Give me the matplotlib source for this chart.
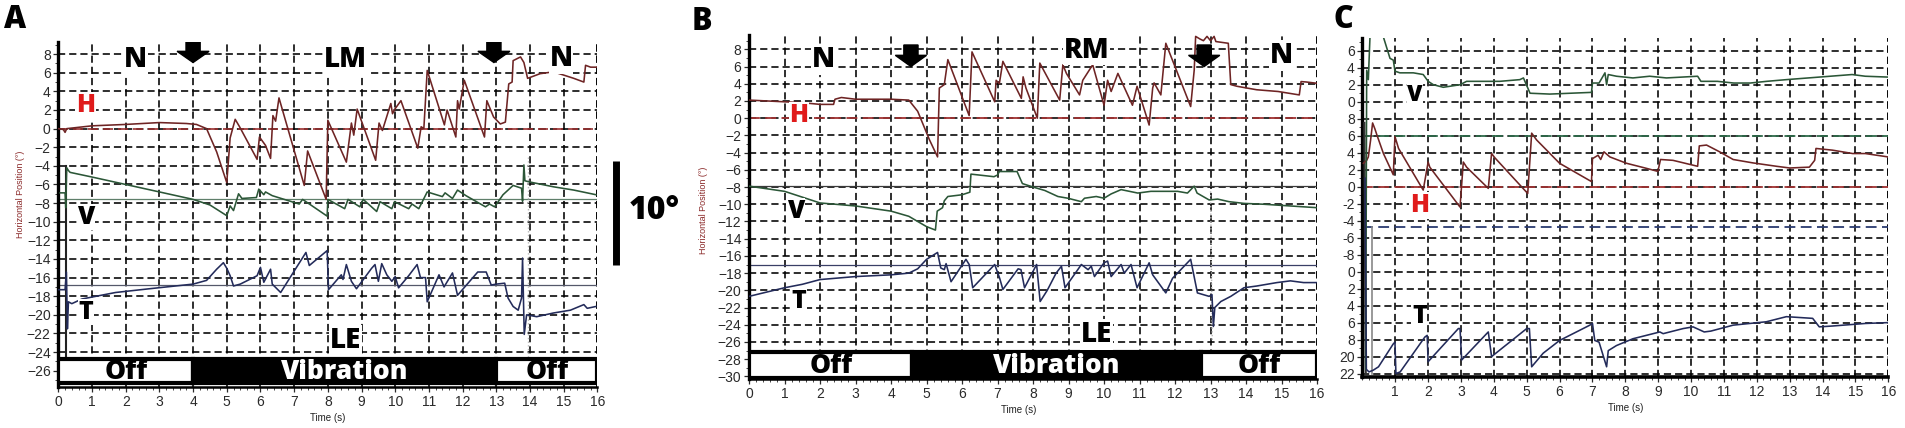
import matplotlib
matplotlib.use("Agg")
import matplotlib.pyplot as plt
import matplotlib.ticker as mticker
from matplotlib.patches import Rectangle, FancyArrow

plt.rcParams['font.family'] = ['Liberation Sans', 'DejaVu Sans']

# ---- Panel A (LM stimulation, left eye) : (time s, position deg)
A_H = [(0, 0), (0.15, -0.1), (0.2, -0.4), (0.25, 0), (1.0, 0.3), (2.0, 0.45), (3.0, 0.65),
       (3.8, 0.55), (4.1, 0.45), (4.4, 0), (4.7, -2.5), (4.9, -4.7), (5.0, -5.8), (5.1, -1.0),
       (5.25, 1.0), (5.38, 0.2), (5.9, -3.3), (5.97, -0.9), (6.15, -1.8), (6.3, -3.2),
       (6.37, 1.4), (6.45, 0.8), (6.55, 3.3), (7.3, -6.1), (7.4, -2.4), (7.95, -7.6),
       (8.0, 0.9), (8.55, -3.6), (8.7, 0.6), (8.77, -0.7), (8.87, 2.1), (9.42, -3.4),
       (9.52, 0.6), (9.62, -0.2), (9.87, 2.7), (9.92, 1.6), (9.99, 2.1), (10.17, 3.0),
       (10.67, -2.1), (10.77, 0.2), (10.85, 0), (10.95, 6.25), (11.46, 0.4), (11.54, 2.0),
       (11.8, -0.9), (11.85, 3.0), (11.9, 2.1), (12.05, 5.2), (12.65, -0.9), (12.72, 3.0),
       (12.92, 1.25), (13.12, 0.5), (13.27, 0.7), (13.37, 4.8), (13.47, 5.0), (13.5, 7.3),
       (13.72, 7.7), (13.82, 7.1), (13.93, 5.4), (14.3, 5.9), (14.7, 6.1), (15.3, 5.4),
       (15.6, 5.0), (15.65, 6.8), (15.8, 6.6), (16.0, 6.6)]
A_V = [(0.05, -6.9), (0.2, -6.9), (0.22, -8.5), (0.25, -4.2), (0.3, -4.5), (0.35, -4.7),
       (1.0, -5.2), (2.0, -6.0), (3.0, -6.8), (4.0, -7.6), (4.5, -8.2), (5.0, -9.35),
       (5.1, -8.3), (5.2, -8.8), (5.35, -7.0), (5.45, -7.5), (5.88, -7.4), (5.95, -6.5),
       (6.1, -7.1), (6.15, -6.8), (6.35, -7.2), (7.15, -8.1), (7.25, -7.6), (7.98, -9.4),
       (8.0, -7.6), (8.5, -8.6), (8.6, -7.6), (8.95, -8.4), (9.05, -7.6), (9.45, -8.9),
       (9.55, -7.85), (9.9, -8.6), (9.98, -7.85), (10.4, -8.6), (10.5, -8.1), (10.7, -8.6),
       (10.95, -6.8), (11.4, -7.3), (11.48, -6.9), (11.7, -7.5), (11.85, -6.6), (12.1, -7.2),
       (12.68, -8.4), (12.8, -8.1), (12.95, -8.4), (13.2, -7.1), (13.5, -6.1), (13.75, -6.4),
       (13.78, -7.8), (13.82, -3.9), (13.85, -5.6), (13.95, -5.7), (14.7, -6.25),
       (15.3, -6.6), (15.96, -7.1)]
A_T = [(0, -17.3), (0.2, -17.3), (0.24, -15.4), (0.27, -21.5), (0.3, -18.6), (0.4, -18.8),
       (0.7, -18.3), (1.7, -17.6), (2.7, -17.2), (4.0, -16.7), (4.4, -16.3), (4.7, -15.1),
       (4.9, -14.4), (5.0, -15.0), (5.1, -15.8), (5.2, -16.9), (5.4, -16.7), (5.9, -15.8),
       (6.0, -14.9), (6.1, -16.5), (6.3, -15.1), (6.35, -16.7), (6.6, -17.6), (7.35, -13.3),
       (7.45, -14.7), (7.98, -13.1), (8.02, -17.3), (8.4, -15.7), (8.45, -16.2), (8.55, -14.6),
       (8.7, -16.4), (8.85, -17.2), (9.3, -15.0), (9.4, -14.6), (9.5, -16.4), (9.6, -14.5),
       (9.75, -15.7), (9.9, -16.4), (10.0, -15.9), (10.1, -17.1), (10.4, -15.8), (10.65, -14.6),
       (10.75, -16.0), (10.9, -16.0), (10.95, -18.6), (11.3, -15.7), (11.45, -17.0),
       (11.7, -15.5), (11.8, -17.1), (11.85, -17.9), (12.45, -15.4), (12.7, -15.4),
       (12.85, -16.8), (13.0, -16.7), (13.25, -16.6), (13.35, -18.2), (13.5, -19.1),
       (13.65, -19.5), (13.75, -18.2), (13.78, -13.9), (13.83, -22.1), (13.9, -20.0),
       (14.2, -20.2), (14.7, -19.8), (15.2, -19.5), (15.6, -18.9), (15.7, -19.3), (15.96, -19.1)]
A_ARTEFACT = [(0.22, -4.0), (0.22, -24.8)]
A_GHOST = [(13.95, -3.0), (13.95, -25.0)]

# ---- Panel B (RM stimulation, left eye)
B_H = [(0, 2.1), (1, 1.9), (1.5, 1.8), (2.0, 1.6), (2.38, 1.6), (2.42, 2.2), (2.6, 2.4),
       (3.0, 2.2), (4.0, 2.2), (4.5, 2.1), (4.75, 0.8), (5.08, -2.5), (5.31, -4.5), (5.36, 3.5),
       (5.5, 3.9), (5.6, 6.8), (6.2, 0.3), (6.28, 7.7), (6.92, 1.9), (6.96, 4.4), (7.05, 4.0),
       (7.15, 6.6), (7.67, 2.3), (7.72, 4.8), (7.8, 3.5), (8.12, 0.0), (8.19, 6.4), (8.75, 2.1),
       (8.84, 6.2), (8.94, 5.2), (9.31, 2.7), (9.4, 4.4), (9.68, 6.2), (10.0, 1.5), (10.1, 4.4),
       (10.2, 3.1), (10.39, 5.2), (10.8, 1.5), (10.93, 3.7), (11.27, -0.8), (11.37, 3.5),
       (11.41, 4.1), (11.6, 2.7), (11.74, 8.7), (12.44, 1.35), (12.54, 5.6), (12.58, 9.5),
       (12.7, 9.2), (12.8, 9.0), (12.9, 9.5), (13.0, 9.0), (13.1, 9.5), (13.15, 8.9),
       (13.5, 8.7), (13.57, 3.9), (13.75, 3.7), (14.3, 3.3), (14.9, 3.1), (15.5, 2.7),
       (15.55, 4.25), (15.7, 4.2), (16, 4.05)]
B_V = [(0, -7.9), (1, -8.5), (2, -9.85), (3, -10.2), (4, -10.8), (4.5, -11.4), (5.0, -12.6),
       (5.25, -13.0), (5.3, -10.8), (5.45, -10.4), (5.5, -9.6), (5.6, -9.1), (6.0, -8.9),
       (6.22, -8.6), (6.25, -6.5), (6.9, -6.8), (7.0, -6.6), (7.05, -6.2), (7.55, -6.2),
       (7.7, -7.6), (8.0, -8.0), (8.33, -8.4), (8.7, -9.1), (8.98, -9.3), (9.36, -9.7),
       (9.45, -9.3), (9.78, -9.1), (10.0, -9.3), (10.2, -8.8), (10.48, -8.3), (10.95, -8.7),
       (11.32, -8.5), (12.07, -8.5), (12.35, -8.7), (12.54, -7.9), (12.62, -8.7),
       (12.96, -9.5), (13.2, -9.4), (13.52, -9.7), (13.94, -9.9), (14.5, -10.0),
       (15.25, -10.2), (16, -10.4)]
B_T = [(0, -20.7), (1, -19.7), (1.5, -19.3), (2, -18.75), (3, -18.4), (4, -18.2), (4.5, -18.0),
       (4.75, -17.5), (5.0, -16.4), (5.31, -15.6), (5.4, -17.4), (5.5, -17.6), (5.55, -16.9),
       (5.69, -19.0), (6.11, -16.4), (6.2, -17.0), (6.3, -19.7), (6.92, -17.0), (7.06, -18.6),
       (7.15, -19.9), (7.58, -17.5), (7.66, -17.6), (7.76, -19.7), (8.1, -17.0), (8.2, -21.3),
       (8.4, -20.0), (8.65, -18.0), (8.8, -17.2), (8.9, -19.7), (9.26, -17.6), (9.36, -17.0),
       (9.55, -17.6), (9.64, -17.2), (9.73, -18.4), (10.0, -16.8), (10.1, -16.6), (10.2, -18.4),
       (10.48, -17.0), (10.57, -18.0), (10.76, -17.0), (10.93, -19.7), (11.27, -16.8),
       (11.37, -18.2), (11.74, -20.3), (11.93, -18.6), (12.44, -16.4), (12.63, -20.3),
       (12.96, -20.7), (13.04, -20.5), (13.08, -24.2), (13.12, -22.0), (13.29, -21.3),
       (13.57, -20.7), (13.94, -19.7), (14.3, -19.5), (14.87, -19.1), (15.25, -18.9),
       (15.62, -19.1), (16, -19.1)]
B_GHOST = [(13.0, -8.5), (13.05, -26.0)]

# ---- Panel C
C_H = [(0.03, 2.75), (0.13, 3.1), (0.18, 3.5), (0.25, 5.5), (0.31, 7.5), (0.38, 6.8),
       (0.44, 6.1), (0.64, 3.9), (0.94, 1.4), (0.99, 5.9), (1.1, 4.5), (1.85, -0.4), (2.0, 2.9),
       (2.05, 2.3), (2.97, -2.4), (3.07, 2.9), (3.17, 2.3), (3.83, -0.2), (3.93, 3.9),
       (4.03, 3.4), (5.03, -0.8), (5.15, 6.3), (5.3, 5.5), (6.0, 2.75), (6.97, 0.6), (7.0, 3.3),
       (7.17, 3.7), (7.25, 3.2), (7.35, 4.1), (7.53, 3.5), (8.04, 2.75), (8.6, 2.2), (8.99, 1.8),
       (9.07, 3.2), (9.45, 3.1), (10.2, 2.4), (10.25, 4.8), (10.47, 4.9), (10.87, 4.1),
       (11.28, 3.2), (11.88, 2.8), (12.6, 2.4), (13.0, 2.2), (13.6, 2.3), (13.76, 3.1),
       (13.8, 4.5), (14.3, 4.3), (14.92, 3.9), (15.3, 3.9), (16.0, 3.5)]
C_V = [(0.1, -21.5), (0.13, 13.7), (0.18, 12.6), (0.23, 17.6), (0.64, 17.6), (0.84, 15.1),
       (0.94, 14.9), (0.99, 13.6), (1.14, 13.4), (1.55, 13.4), (1.85, 13.2), (2.0, 12.4),
       (2.16, 12.0), (2.46, 11.7), (2.97, 12.0), (3.17, 12.4), (4.18, 12.4), (4.79, 12.6),
       (4.9, 12.8), (5.1, 11.0), (5.7, 10.9), (6.97, 11.1), (7.0, 12.2), (7.2, 12.2),
       (7.38, 13.4), (7.43, 12.0), (7.48, 13.2), (7.73, 13.0), (8.23, 12.8), (8.74, 13.0),
       (9.25, 12.8), (10.2, 13.0), (10.3, 12.4), (10.8, 12.4), (11.3, 12.2), (11.8, 12.2),
       (12.3, 12.4), (12.9, 12.6), (13.9, 12.9), (14.9, 13.2), (15.3, 13.0), (16.0, 12.9)]
C_T = [(0.08, 1.0), (0.12, -21.5), (0.2, -21.8), (0.33, -21.6), (0.49, -21.2), (0.94, -18.5),
       (0.99, -18.3), (1.02, -22.0), (1.15, -21.8), (1.9, -17.7), (1.97, -17.5), (2.0, -20.6),
       (2.92, -16.7), (2.97, -16.7), (3.02, -20.4), (3.78, -17.3), (3.83, -17.1), (3.93, -20.0),
       (5.0, -16.7), (5.08, -16.7), (5.15, -21.2), (5.5, -19.6), (6.0, -18.1), (6.92, -16.3),
       (7.0, -16.1), (7.07, -18.1), (7.2, -18.3), (7.43, -21.2), (7.48, -19.3), (7.73, -18.7),
       (8.23, -17.9), (9.05, -17.1), (9.15, -17.3), (9.76, -16.7), (10.06, -16.5), (10.4, -17.1),
       (10.6, -17.0), (11.28, -16.3), (12.29, -15.9), (12.9, -15.3), (13.7, -15.5),
       (13.9, -16.5), (14.3, -16.4), (15.3, -16.1), (16.0, -16.0)]
C_ARTEFACT1 = [(0.06, 7.5), (0.1, -21.8)]
C_ARTEFACT2 = [(0.28, -4.7), (0.28, -22.0)]

# ---- stimulus periods (start, end, label)
A_STIM = [(0, 4, 'Off'), (4, 13, 'Vibration'), (13, 16, 'Off')]
B_STIM = [(0, 4.6, 'Off'), (4.6, 12.72, 'Vibration'), (12.72, 16, 'Off')]
A_BAR = (-27.35, -24.7)
B_BAR = (-30.15, -27.2)
A_ARROWS = [4.0, 12.93]
B_ARROWS = [4.56, 12.82]

A_YTICKS = list(range(8, -27, -2))
B_YTICKS = list(range(8, -31, -2))
C_YTICKS = list(range(16, -23, -2))
C_YLABELS = ['6', '4', '2', '0', '8', '6', '4', '2', '0', '-2', '-4', '-6', '-8',
             '0', '2', '4', '6', '8', '20', '22']

H_COL = '#6e2424'
V_COL = '#2b5637'
T_COL = '#232b5a'
GRID_DASH = (0, (4.5, 2.5))
BOLD_FONT = ['Open Sans', 'DejaVu Sans']


def trace(ax, pts, color, lw=1.15, **kw):
    t = [p[0] for p in pts]
    v = [p[1] for p in pts]
    ax.plot(t, v, color=color, lw=lw, zorder=3, **kw)


def setup(ax, ylim, yticks, ylabels=None):
    ax.set_xlim(0, 16)
    ax.set_ylim(*ylim)
    ax.set_xticks(range(0, 17))
    ax.set_yticks(yticks)
    if ylabels is not None:
        ax.set_yticklabels(ylabels)
    ax.xaxis.set_minor_locator(mticker.MultipleLocator(0.2))
    ax.yaxis.set_minor_locator(mticker.MultipleLocator(1))
    ax.tick_params(which='major', labelsize=10, colors='#2a2a2a', length=3.5, width=0.9, pad=2)
    ax.tick_params(which='minor', length=2, width=0.7, colors='#444')
    ax.grid(True, color='black', linestyle=GRID_DASH, lw=1.15)
    ax.set_axisbelow(True)
    for s in ('top', 'right'):
        ax.spines[s].set_visible(False)
    ax.spines['left'].set_linewidth(2.4)
    ax.spines['bottom'].set_linewidth(1.8)
    # right dashed border at 16 s
    ax.axvline(16, color='black', ls=GRID_DASH, lw=1.15, zorder=1)


def label(ax, t, v, s, size=20, color='black'):
    ax.text(t, v, s, ha='center', va='center', fontsize=size, fontweight='heavy',
            color=color, family=BOLD_FONT, zorder=5,
            bbox=dict(facecolor='white', edgecolor='none', pad=0.5))


def stim_bar(ax, periods, bar):
    lo, hi = bar
    for t0, t1, name in periods:
        dark = name != 'Off'
        ax.add_patch(Rectangle((t0, lo), t1 - t0, hi - lo, facecolor='black' if dark else 'white',
                               edgecolor='black', lw=3, zorder=4))
        ax.text((t0 + t1) / 2, (lo + hi) / 2 - 0.1, name, ha='center', va='center',
                fontsize=19, fontweight='heavy', color='white' if dark else 'black',
                family=BOLD_FONT, zorder=5)


def arrows(ax, times, top, length, width, head_w, head_l):
    for t in times:
        ax.add_patch(FancyArrow(t, top, 0, -length, width=width, head_width=head_w,
                                head_length=head_l, length_includes_head=True,
                                color='black', zorder=6))


fig = plt.figure(figsize=(19.06, 4.28), dpi=100)

# ================= Panel A
axA = fig.add_axes([0.0306, 0.0958, 0.2828, 0.806])
setup(axA, (-27.75, 9.3), A_YTICKS)
axA.axhline(0, color='#9a3030', ls=(0, (6, 3)), lw=1.2, zorder=2)
axA.axhline(-7.6, color='#5f7f6a', lw=0.9, zorder=2)
axA.axhline(-16.8, color='#55586a', lw=0.9, zorder=2)
trace(axA, A_GHOST, '#b8b8b8', lw=1.0, ls=':')
trace(axA, A_ARTEFACT, '#222222', lw=1.5)
trace(axA, A_H, H_COL)
trace(axA, A_V, V_COL)
trace(axA, A_T, T_COL)
stim_bar(axA, A_STIM, A_BAR)
arrows(axA, A_ARROWS, 9.5, 2.4, 0.42, 0.95, 1.2)
label(axA, 2.28, 7.4, 'N')
label(axA, 8.52, 7.4, 'LM')
label(axA, 14.92, 7.5, 'N')
label(axA, 0.8, 2.5, 'H', size=18, color='#e01b1b')
label(axA, 0.82, -9.5, 'V', size=18)
label(axA, 0.82, -19.7, 'T', size=18)
label(axA, 8.52, -22.75, 'LE')
axA.set_ylabel('Horizontal Position (°)', fontsize=6.5, color='#8b2a2a')
axA.yaxis.set_label_coords(-0.061, 0.56)
axA.set_xlabel('Time (s)', fontsize=7, color='#222')
axA.xaxis.set_label_coords(0.5, -0.075)
# 10 degree scale bar
SCALE_T = 16.55
SCALE_V = (-3.5, -14.7)
axA.plot([SCALE_T, SCALE_T], list(SCALE_V), color='black', lw=5, clip_on=False,
         solid_capstyle='butt')
axA.text(17.68, -8.9, '10°', ha='center', va='center', fontsize=23, fontweight='heavy',
         family=BOLD_FONT, clip_on=False)

# ================= Panel B
axB = fig.add_axes([0.393, 0.1145, 0.298, 0.8037])
setup(axB, (-30.3, 9.66), B_YTICKS)
axB.axhline(0, color='#a03232', ls=(0, (6, 3)), lw=1.3, zorder=2)
axB.axhline(-7.9, color='#3a3a3a', lw=0.9, zorder=2)
axB.axhline(-17.0, color='#3a3f66', lw=0.9, zorder=2)
trace(axB, B_GHOST, '#b8b8b8', lw=1.0, ls=':')
trace(axB, B_H, H_COL)
trace(axB, B_V, V_COL)
trace(axB, B_T, T_COL)
stim_bar(axB, B_STIM, B_BAR)
arrows(axB, B_ARROWS, 8.5, 2.5, 0.4, 0.88, 1.3)
label(axB, 2.1, 6.8, 'N')
label(axB, 9.5, 7.9, 'RM')
label(axB, 15.0, 7.3, 'N')
label(axB, 1.4, 0.3, 'H', size=18, color='#e01b1b')
label(axB, 1.3, -10.8, 'V', size=18)
label(axB, 1.4, -21.3, 'T', size=18)
label(axB, 9.8, -25.1, 'LE')
axB.set_ylabel('Horizontal Position (°)', fontsize=6.5, color='#8b2a2a')
axB.yaxis.set_label_coords(-0.072, 0.49)
axB.set_xlabel('Time (s)', fontsize=7, color='#222')
axB.xaxis.set_label_coords(0.474, -0.076)

# ================= Panel C
axC = fig.add_axes([0.7148, 0.1192, 0.2759, 0.792])
setup(axC, (-22.4, 17.5), C_YTICKS, C_YLABELS)
axC.set_xticks(range(1, 17))
axC.axhline(0, color='#a03232', ls=(0, (6, 3)), lw=1.3, zorder=2)
axC.axhline(6, color='#2e6a4a', ls=(0, (6, 3)), lw=1.3, zorder=2)
axC.axhline(-4.7, color='#2a3a70', ls=(0, (6, 3)), lw=1.3, zorder=2)
axC.spines['bottom'].set_linewidth(2.6)
trace(axC, C_ARTEFACT1, '#333333', lw=1.6)
trace(axC, C_ARTEFACT2, '#888888', lw=1.2)
trace(axC, C_H, H_COL)
trace(axC, C_V, V_COL)
trace(axC, C_T, T_COL)
label(axC, 1.6, 10.8, 'V', size=16)
label(axC, 1.73, -2.2, 'H', size=18, color='#e01b1b')
label(axC, 1.73, -15.3, 'T', size=18)
axC.set_xlabel('Time (s)', fontsize=7, color='#222')
axC.xaxis.set_label_coords(0.5, -0.077)

# panel letters
for x, y, s in [(15, 20, 'A'), (702, 22, 'B'), (1343, 20, 'C')]:
    fig.text(x / 1906, 1 - y / 428, s, ha='center', va='center', fontsize=22,
             fontweight='heavy', family=BOLD_FONT)

fig.savefig('out.png', dpi=100)
